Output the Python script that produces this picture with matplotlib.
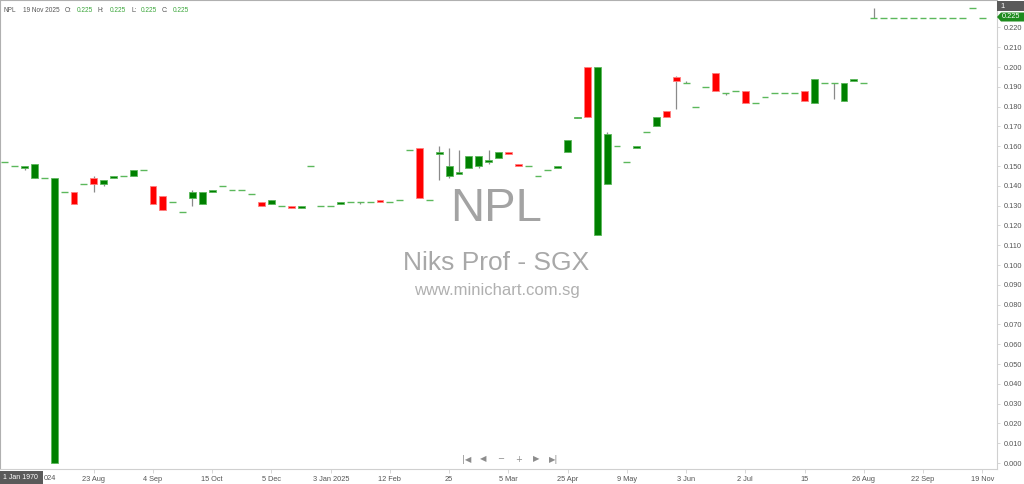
import numpy as np
import matplotlib
matplotlib.use("Agg")
import matplotlib.pyplot as plt
from matplotlib.patches import Rectangle, Polygon

plt.rcParams['font.family'] = ['Liberation Sans', 'DejaVu Sans']

# daily bars, oldest first (open, high, low, close)
opens = [0.152, 0.150, 0.149, 0.144, 0.144, 0.000, 0.137, 0.137, 0.141, 0.144,
         0.141, 0.144, 0.145, 0.145, 0.148, 0.140, 0.135, 0.132, 0.127, 0.134,
         0.131, 0.137, 0.140, 0.138, 0.138, 0.136, 0.132, 0.131, 0.130, 0.130,
         0.129, 0.150, 0.130, 0.130, 0.131, 0.132, 0.132, 0.132, 0.133, 0.132,
         0.133, 0.158, 0.159, 0.133, 0.156, 0.145, 0.146, 0.149, 0.150, 0.152,
         0.154, 0.157, 0.151, 0.150, 0.145, 0.148, 0.149, 0.157, 0.174, 0.200,
         0.115, 0.141, 0.160, 0.152, 0.159, 0.167, 0.170, 0.178, 0.195, 0.192,
         0.180, 0.190, 0.197, 0.187, 0.188, 0.188, 0.182, 0.185, 0.187, 0.187,
         0.187, 0.188, 0.182, 0.192, 0.192, 0.183, 0.193, 0.192, 0.225, 0.225,
         0.225, 0.225, 0.225, 0.225, 0.225, 0.225, 0.225, 0.225, 0.230, 0.225]
closes = [0.152, 0.150, 0.150, 0.151, 0.144, 0.144, 0.137, 0.131, 0.141, 0.141,
          0.143, 0.145, 0.145, 0.148, 0.148, 0.131, 0.128, 0.132, 0.127, 0.137,
          0.137, 0.138, 0.140, 0.138, 0.138, 0.136, 0.130, 0.133, 0.130, 0.129,
          0.130, 0.150, 0.130, 0.130, 0.132, 0.132, 0.132, 0.132, 0.132, 0.132,
          0.133, 0.158, 0.134, 0.133, 0.157, 0.150, 0.147, 0.155, 0.155, 0.153,
          0.157, 0.156, 0.150, 0.150, 0.145, 0.148, 0.150, 0.163, 0.175, 0.175,
          0.200, 0.166, 0.160, 0.152, 0.160, 0.167, 0.175, 0.175, 0.193, 0.192,
          0.180, 0.190, 0.188, 0.187, 0.188, 0.182, 0.182, 0.185, 0.187, 0.187,
          0.187, 0.183, 0.194, 0.192, 0.192, 0.192, 0.194, 0.192, 0.225, 0.225,
          0.225, 0.225, 0.225, 0.225, 0.225, 0.225, 0.225, 0.225, 0.230, 0.225]
# only bars with a visible wick beyond the body
highs_extra = {9: 0.145, 19: 0.138, 44: 0.160, 45: 0.159, 46: 0.158, 49: 0.158,
               61: 0.167, 68: 0.1955, 69: 0.193, 88: 0.230}
lows_extra = {2: 0.148, 9: 0.137, 10: 0.140, 19: 0.130, 36: 0.131, 44: 0.143,
              45: 0.144, 48: 0.149, 49: 0.151, 68: 0.179, 73: 0.186, 84: 0.184}

tick_idx = [9, 15, 21, 27, 33, 39, 45, 51, 57, 63, 69, 75, 81, 87, 93, 99]
tick_labels = ["23 Aug", "4 Sep", "15 Oct", "5 Dec", "3 Jan 2025",
               "12 Feb", "25", "5 Mar", "25 Apr", "9 May", "3 Jun", "2 Jul",
               "15", "26 Aug", "22 Sep", "19 Nov"]

o = np.array(opens)
c = np.array(closes)
n = len(o)
idx = np.arange(n)
h = np.maximum(o, c)
l = np.minimum(o, c)
for k, v in highs_extra.items():
    h[k] = v
for k, v in lows_extra.items():
    l[k] = v

W, H = 1024, 484
fig = plt.figure(figsize=(W / 100, H / 100), dpi=100)
ax = fig.add_axes([0, 15 / H, 997 / W, 469 / H])
ax.set_xlim(-0.5, n + 0.5)
ax.set_ylim(-0.00303, 0.23384)

# watermark
ax.text(0.498, 0.555, "NPL", transform=ax.transAxes, ha='center', va='center',
        fontsize=34, color='#a3a3a3', zorder=0)
ax.text(0.498, 0.44, "Niks Prof - SGX", transform=ax.transAxes, ha='center',
        va='center', fontsize=19, color='#a8a8a8', zorder=0)
ax.text(0.498, 0.38, "www.minichart.com.sg", transform=ax.transAxes,
        ha='center', va='center', fontsize=12, color='#b0b0b0', zorder=0)

bw = 0.7
up = c > o
down = c < o
flat = c == o

ax.vlines(idx, l, h, color='#8a8a8a', lw=0.9, zorder=2)
ax.bar(idx[up], (c - o)[up], bottom=o[up], width=bw, color='#008000',
       edgecolor='#5cb85c', lw=0.6, zorder=3)
ax.bar(idx[down], (o - c)[down], bottom=c[down], width=bw, color='#ff0000',
       edgecolor='#ff8080', lw=0.6, zorder=3)
ax.hlines(c[flat], idx[flat] - bw / 2, idx[flat] + bw / 2, color='#5cb85c',
          lw=1.0, zorder=3)

# axes styling
for s in ['left', 'top']:
    ax.spines[s].set_color('#b0b0b0')
    ax.spines[s].set_linestyle((0, (1, 1)))
    ax.spines[s].set_linewidth(0.8)
for s in ['right', 'bottom']:
    ax.spines[s].set_color('#d0d0d0')
    ax.spines[s].set_linewidth(0.8)

ax.yaxis.tick_right()
ax.set_yticks(np.arange(0, 0.2201, 0.01))
ax.set_yticklabels([f"{v:.3f}" for v in np.arange(0, 0.2201, 0.01)])
ax.set_xticks(tick_idx)
ax.set_xticklabels(tick_labels)
ax.tick_params(axis='y', labelsize=5.3, colors='#d0d0d0', labelcolor='#555555',
               length=2.5, width=0.6, pad=2)
ax.tick_params(axis='x', labelsize=5.3, colors='#d0d0d0', labelcolor='#555555',
               length=3, width=0.6, pad=2)

# header
hy = 1 - 10 / H
parts = [(4, "NPL", '#555555'), (23, "19 Nov 2025", '#555555'),
         (65, "O:", '#555555'), (77, "0.225", '#3aa63a'),
         (98, "H:", '#555555'), (110, "0.225", '#3aa63a'),
         (131, "L:", '#555555'), (141, "0.225", '#3aa63a'),
         (162, "C:", '#555555'), (173, "0.225", '#3aa63a')]
for px, txt, col in parts:
    fig.text(px / W, hy, txt, fontsize=4.7, color=col, va='center', ha='left')

# right-side tags
fig.patches.append(Rectangle((997 / W, 1 - 11 / H), 27 / W, 10 / H,
                             transform=fig.transFigure, facecolor='#5a5a5a',
                             edgecolor='none'))
fig.text(1000 / W, 1 - 6 / H, "1", fontsize=5.5, color='white', va='center')
tag = [(997, 17), (1001, 12.5), (1024, 12.5), (1024, 21.5), (1001, 21.5)]
fig.patches.append(Polygon([(x / W, 1 - y / H) for x, y in tag], closed=True,
                           transform=fig.transFigure, facecolor='#1e8c1e',
                           edgecolor='none'))
fig.text(1002 / W, 1 - 17 / H, "0.225", fontsize=5.3, color='white',
         va='center')

# date tag bottom-left, partly hiding the first date label
fig.text(44 / W, 1 - 478 / H, "024", fontsize=5.3, color='#555555',
         va='center', ha='left')
fig.patches.append(Rectangle((0, 0), 43 / W, 13 / H, transform=fig.transFigure,
                             facecolor='#5a5a5a', edgecolor='none', zorder=5))
fig.text(3 / W, 6.5 / H, "1 Jan 1970", fontsize=5, color='white',
         va='center', zorder=6)

# navigation controls
ny = 1 - 459 / H
for px, txt in [(467, "|◀"), (483, "◀"), (501, "−"), (519, "+"),
                (536, "▶"), (554, "▶|")]:
    fig.text(px / W, ny, txt, fontsize=6, color='#8c8c8c', ha='center',
             va='center', family='DejaVu Sans')

fig.savefig("out.png", dpi=100)
